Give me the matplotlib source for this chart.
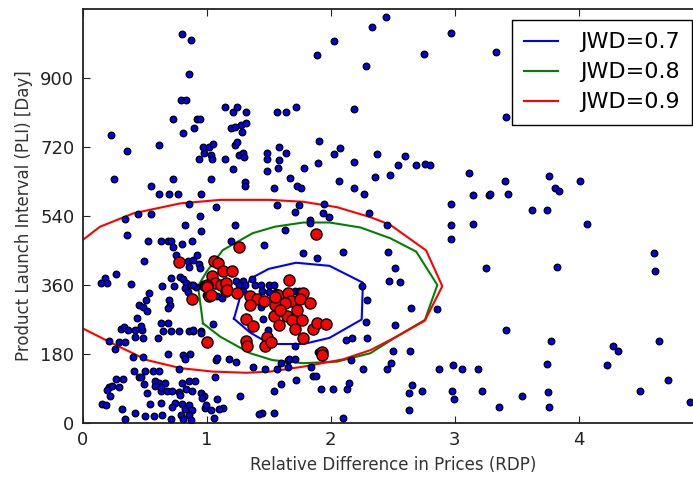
import matplotlib
matplotlib.use("Agg")
import matplotlib.pyplot as plt

# blue points: (RDP, PLI)
blue_x = [
    0.80, 0.87, 0.855, 0.79, 0.833, 0.73, 0.92, 0.946, 0.90, 0.806,
    1.15, 1.215, 1.244, 1.315, 1.57, 1.20, 1.23, 1.28, 1.317, 1.287,
    0.228, 0.357, 0.613, 0.973, 1.019, 1.053, 1.23, 1.242, 0.976, 1.035,
    0.935, 1.04, 1.145, 1.258, 1.29, 1.303, 1.489, 1.489, 1.585, 1.58,
    1.577, 1.215, 1.489, 0.25, 0.73, 1.035, 0.548, 0.613, 0.70, 0.77,
    0.954, 1.306, 1.306, 1.545, 0.855, 1.075, 1.565, 0.448, 0.548, 0.946,
    0.339,
    2.45, 2.333, 2.97, 2.027, 1.887, 2.755, 2.282, 1.637, 1.718, 2.188,
    1.908, 2.075, 2.027, 1.637, 1.787, 1.895, 2.188, 2.376, 2.60, 2.545,
    2.69, 2.763, 2.80, 2.476, 2.357, 1.672, 1.73, 1.758, 2.064, 2.188,
    2.271, 3.115, 3.148, 3.274, 2.973, 1.744, 1.71, 1.946, 1.94, 1.99,
    1.833, 2.311,
    3.333, 3.41, 3.405, 3.282, 3.43, 3.76, 3.81, 3.84, 4.01, 3.623,
    3.742, 4.07, 3.252, 3.823, 4.607, 4.615, 3.416, 3.774, 3.742, 4.28,
    4.314, 4.228, 4.648, 4.72, 4.494, 4.90, 3.22, 3.543, 3.755, 3.355,
    3.758,
    2.982, 2.993, 2.733, 2.63, 2.658, 2.633, 2.148, 2.134, 2.016, 1.924,
    2.10, 1.717, 1.60, 1.543, 1.543, 1.443, 1.425, 1.265, 1.129,
    0.65, 0.714, 0.774, 0.86, 0.886, 0.956,
    0.424, 0.484, 0.607, 0.21, 0.295, 0.339, 0.263, 0.688, 0.806, 0.865,
    0.823, 0.403, 0.484, 1.077, 0.774, 0.414, 0.50, 0.569, 0.618, 0.452,
    0.473, 0.269, 0.327, 0.613, 0.58, 0.666, 0.494, 0.80, 0.86, 0.903,
    0.21, 0.236, 0.295, 0.198, 0.634, 0.682, 0.72, 0.774, 0.833, 0.881,
    0.585, 0.629, 0.521, 0.785, 0.952, 0.978, 0.962, 0.22, 1.085, 0.156,
    0.188, 0.543, 0.63, 0.747, 0.72, 0.80, 0.827, 0.86, 0.881, 0.984,
    1.032, 0.994, 1.10, 0.317, 0.424, 0.505, 0.575, 0.64, 0.344, 0.714,
    0.79, 0.855, 0.871, 0.811, 1.059,
    0.828, 0.952, 0.355, 0.527, 0.634, 0.688, 0.715, 0.80, 0.881, 0.726,
    0.494, 0.752, 0.924, 0.849, 0.855, 0.94, 0.95, 0.269, 0.177, 0.15,
    0.198, 0.387, 0.715, 0.785, 0.806, 0.64, 0.736, 0.833, 0.871, 0.828,
    0.849, 0.968, 0.973, 0.532, 0.51, 0.698, 0.456, 0.489, 0.516, 0.704,
    0.688, 0.44, 0.634, 0.688, 0.311, 0.333, 0.365, 0.419, 0.478, 0.473,
    1.231, 1.634, 1.833, 1.198, 1.462, 1.779, 1.887, 0.892, 1.236, 1.295,
    1.365, 1.263, 1.311, 1.392, 1.435, 1.50, 1.543, 1.258, 1.295, 1.446,
    1.50, 1.715, 1.742, 1.559, 0.914, 0.994, 1.027, 1.081, 1.123, 1.435,
    1.456, 1.494, 1.053, 0.956, 0.892, 1.71, 1.081, 1.898, 0.892, 1.027,
    2.456, 2.973, 3.15, 2.968, 2.102, 2.462, 2.516, 2.473, 2.559, 2.255,
    2.29, 2.65, 2.86, 2.285, 2.516, 2.123, 2.172, 2.295, 2.505, 2.64,
    2.484, 2.456, 2.263, 2.167, 2.876, 2.984, 3.059, 3.188, 1.597, 1.656,
    1.565, 1.656, 1.843, 1.855, 1.882,
    1.177, 1.236, 1.065, 1.371, 1.473, 1.661, 1.715,
]
blue_y = [
    1015, 999, 911, 843, 843, 792, 792, 792, 770, 757,
    825, 811, 825, 811, 811, 770, 772, 777, 782, 759,
    752, 710, 725, 721, 721, 728, 725, 732, 704, 698,
    688, 688, 688, 698, 704, 695, 704, 688, 719, 686,
    665, 662, 657, 637, 637, 637, 617, 597, 597, 597,
    597, 629, 618, 614, 570, 563, 569, 546, 546, 540,
    531,
    1058, 1034, 1017, 996, 959, 962, 930, 811, 825, 818,
    736, 718, 703, 704, 665, 678, 681, 703, 697, 672,
    672, 675, 672, 648, 642, 640, 617, 614, 631, 614,
    597, 653, 595, 595, 571, 569, 550, 571, 547, 537,
    530, 547,
    967, 798, 632, 597, 597, 644, 612, 605, 632, 556,
    556, 519, 404, 408, 443, 396, 243, 213, 154, 201,
    187, 151, 213, 112, 84, 55, 84, 70, 80, 41,
    42,
    83, 62, 83, 79, 98, 34, 103, 88, 88, 88,
    14, 111, 102, 83, 26, 26, 23, 70, 39,
    239, 239, 239, 239, 239, 239,
    225, 222, 222, 214, 212, 212, 192, 180, 178, 180,
    168, 171, 171, 163, 140, 135, 135, 135, 135, 121,
    121, 116, 116, 105, 110, 105, 102, 105, 110, 110,
    93, 97, 95, 86, 83, 84, 83, 81, 89, 84,
    97, 93, 77, 74, 77, 70, 64, 70, 63, 50,
    46, 50, 51, 53, 41, 50, 37, 46, 34, 39,
    34, 46, 37, 36, 27, 18, 18, 20, 11, 11,
    20, 20, 8, 10, 13,
    516, 500, 490, 474, 474, 474, 474, 467, 474, 460,
    423, 439, 439, 423, 408, 415, 404, 389, 378, 366,
    366, 363, 378, 382, 375, 357, 357, 366, 361, 352,
    342, 363, 356, 340, 321, 321, 307, 303, 293, 307,
    300, 274, 260, 260, 246, 251, 243, 243, 243, 253,
    517, 503, 523, 476, 465, 444, 430, 425, 370, 370,
    375, 359, 359, 359, 359, 359, 359, 344, 344, 344,
    342, 344, 344, 342, 356, 335, 331, 330, 326, 303,
    272, 243, 258, 236, 243, 201, 170, 185, 361, 361,
    516, 517, 519, 481, 446, 446, 404, 370, 368, 357,
    321, 299, 298, 264, 256, 217, 222, 222, 187, 187,
    157, 140, 140, 163, 142, 152, 140, 140, 157, 164,
    140, 145, 147, 123, 123,
    168, 159, 121, 145, 142, 168, 168,
]

# red points
red_x = [
    0.774, 0.881, 1.0, 1.882, 1.263, 1.059, 1.091, 1.043, 1.129, 1.204,
    1.065, 1.113, 1.156, 1.156, 1.005, 1.016, 1.666, 1.349, 1.403, 1.462,
    1.349, 1.575, 1.656, 1.682, 1.629, 1.779, 1.752, 1.833, 1.553, 1.543,
    1.317, 1.371, 1.65, 1.58, 1.688, 1.769, 1.71, 1.774, 1.855, 1.887,
    1.962, 1.317, 1.327, 1.489, 1.473, 1.516, 1.932, 1.927, 1.0, 1.032,
    1.161, 1.242, 1.553, 1.59, 1.726,
]
red_y = [
    420, 324, 212, 493, 458, 422, 417, 384, 397, 397,
    365, 359, 365, 344, 361, 331, 373, 330, 324, 319,
    309, 333, 338, 319, 314, 338, 323, 312, 307, 279,
    272, 253, 279, 256, 269, 269, 244, 222, 244, 260,
    258, 213, 201, 224, 201, 210, 184, 177, 354, 333,
    347, 340, 328, 295, 295,
]

# JWD contour lines
jwd07_x = [1.22, 1.28, 1.36, 1.50, 1.72, 1.99, 2.26, 2.25, 1.99, 1.78, 1.51, 1.35, 1.22]
jwd07_y = [272, 340, 378, 402, 418, 410, 366, 270, 222, 206, 206, 236, 272]
jwd08_x = [0.97, 0.93, 1.00, 1.13, 1.37, 1.55, 1.78, 1.99, 2.24, 2.48, 2.69, 2.86,
           2.76, 2.53, 2.32, 2.05, 1.78, 1.53, 1.35, 1.11, 0.97]
jwd08_y = [260, 357, 395, 451, 495, 512, 523, 523, 510, 482, 447, 360,
           269, 225, 182, 160, 156, 164, 182, 225, 260]
jwd09_x = [-0.05, 0.14, 0.41, 0.79, 1.11, 1.51, 1.78, 2.05, 2.32, 2.48, 2.77, 2.90,
           2.76, 2.53, 2.32, 2.10, 1.78, 1.51, 1.32, 1.05, 0.79, 0.52, 0.25, -0.05]
jwd09_y = [465, 512, 547, 573, 582, 582, 577, 563, 537, 517, 450, 357,
           267, 225, 190, 166, 147, 134, 131, 134, 143, 164, 206, 255]

fig = plt.figure(figsize=(6.93, 4.78), dpi=100)
ax = fig.add_axes([0.1193, 0.1151, 0.8947, 0.8661])

ax.plot(jwd07_x, jwd07_y, color='#0000ff', lw=1.5, label='JWD=0.7', zorder=2)
ax.plot(jwd08_x, jwd08_y, color='#008000', lw=1.5, label='JWD=0.8', zorder=2)
ax.plot(jwd09_x, jwd09_y, color='#ff0000', lw=1.5, label='JWD=0.9', zorder=2)

ax.scatter(blue_x, blue_y, s=22, c='#0000ff', edgecolors='black', linewidths=1.0, zorder=3)
ax.scatter(red_x, red_y, s=64, c='#ff0000', edgecolors='black', linewidths=1.0, zorder=4)

ax.set_xlim(0, 5)
ax.set_ylim(0, 1080)
ax.set_xticks([0, 1, 2, 3, 4])
ax.set_yticks([0, 180, 360, 540, 720, 900])
ax.tick_params(direction='in', top=True, right=True, length=5, labelsize=13,
               colors='#222222', pad=6)
for sp in ax.spines.values():
    sp.set_linewidth(1.3)
    sp.set_color('#222222')

ax.set_xlabel('Relative Difference in Prices (RDP)', fontsize=12, color='#333333', labelpad=5)
ax.set_ylabel('Product Launch Interval (PLI) [Day]', fontsize=12, color='#333333', labelpad=5)

leg = ax.legend(loc='upper right', fontsize=16, handlelength=1.5, handletextpad=1.0,
                labelspacing=0.45, borderpad=0.55, borderaxespad=0.5, fancybox=False,
                framealpha=1)
leg.set_zorder(5)
leg.get_frame().set_edgecolor('black')
leg.get_frame().set_linewidth(1.0)

fig.savefig('out.png', dpi=100)
